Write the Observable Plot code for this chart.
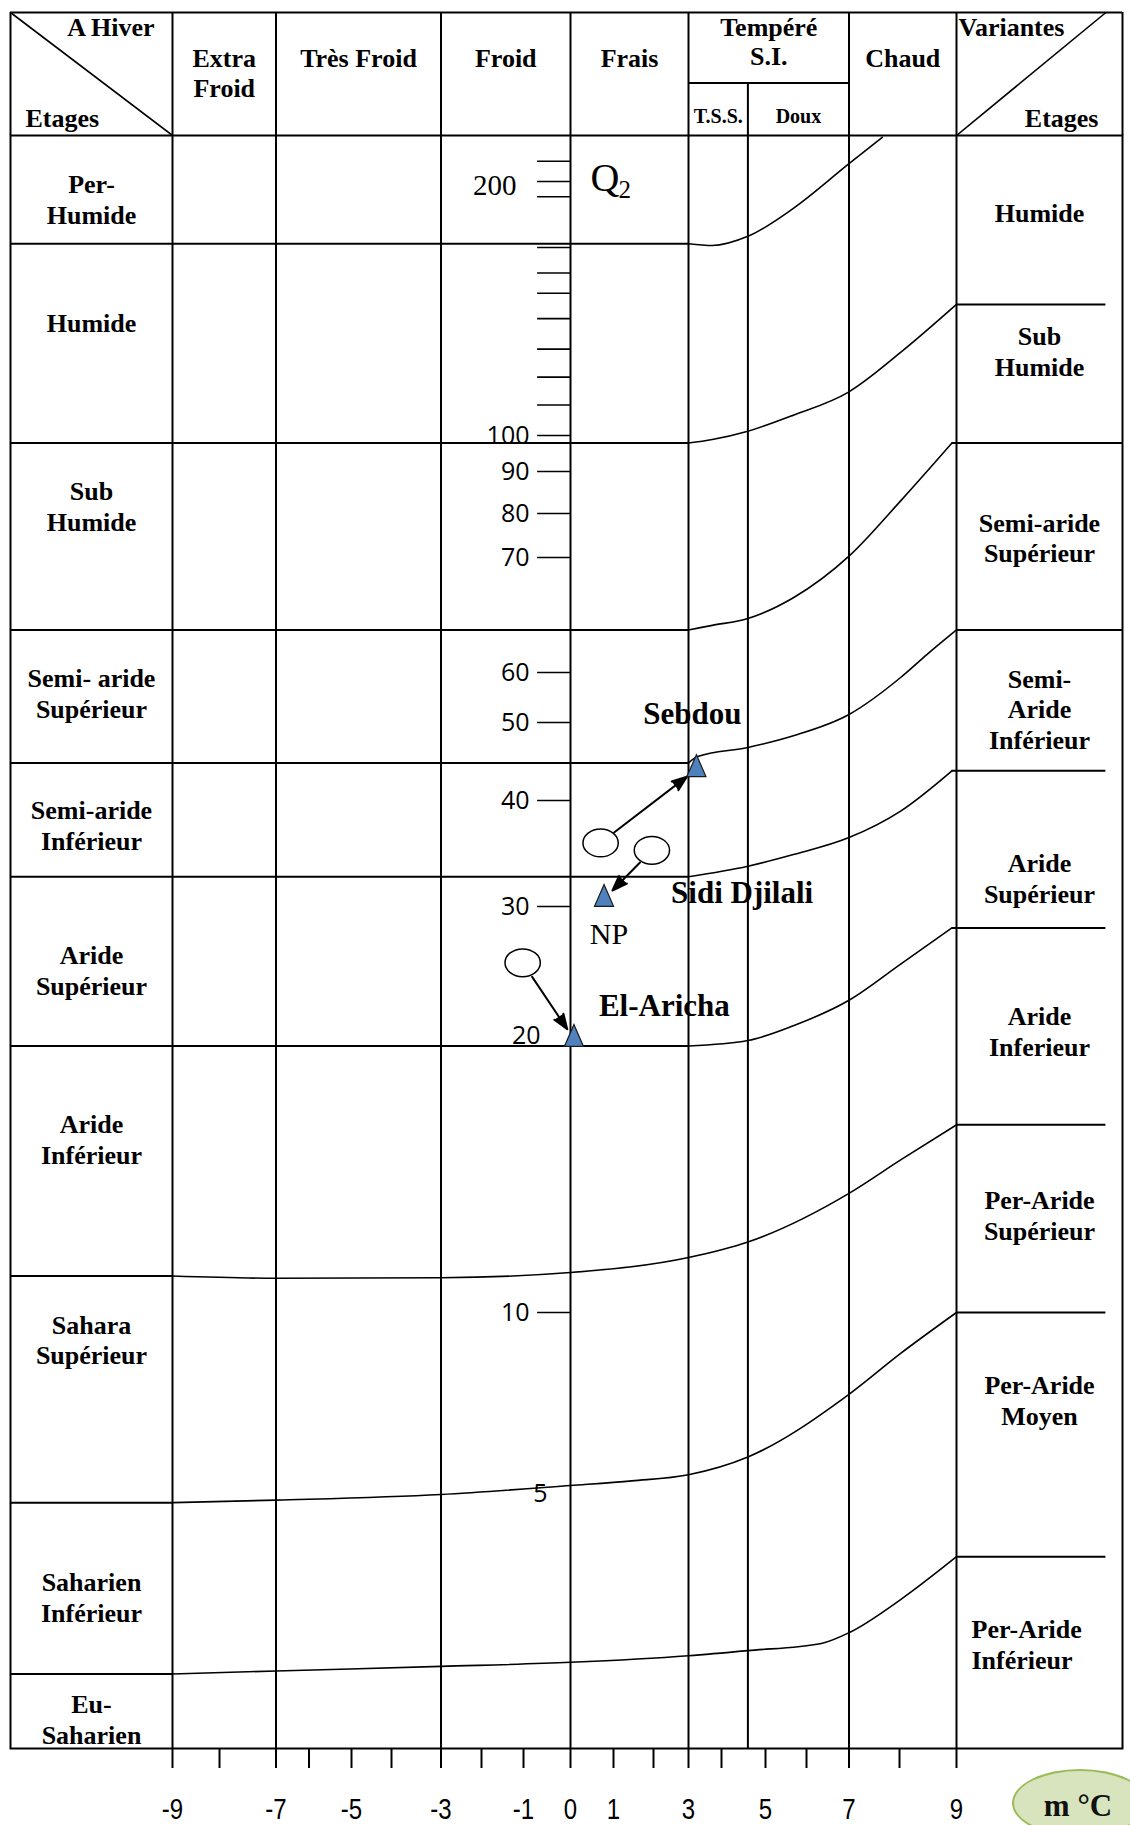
<!DOCTYPE html>
<html lang="fr">
<head>
<meta charset="utf-8">
<title>Climagramme pluviothermique d'Emberger</title>
<script src="https://cdn.jsdelivr.net/npm/d3@7"></script>
<script src="https://cdn.jsdelivr.net/npm/@observablehq/plot@0.6"></script>
<style>
  html, body { margin: 0; padding: 0; background: #fff; overflow: hidden; }
  #chart { position: relative; width: 1130px; height: 1825px; overflow: hidden; }
  #chart svg { position: absolute; left: 0; top: 0; }
  .unit-badge {
    position: absolute; left: 1012px; top: 1769px; width: 136px; height: 68px;
    box-sizing: border-box; border: 2px solid #9bbb59; border-radius: 50%;
    background: #d7e4bd; color: #111;
    font: bold 31px "Liberation Serif", "Times New Roman", serif;
    display: flex; align-items: center; justify-content: center;
    padding-right: 4px; padding-top: 6px;
  }
</style>
</head>
<body>
<div id="chart"></div>
<script>
// ---------- data ----------
// m (°C): graduation stops of the temperature axis (±12 close the two label columns)
const tempStops = [-12, -9, -8, -7, -6, -5, -4, -3, -2, -1, 0, 1, 2, 3, 4, 5, 6, 7, 8, 9, 12];
const tempTicks = [-9, -8, -7, -6, -5, -4, -3, -2, -1, 0, 1, 2, 3, 4, 5, 6, 7, 8, 9];
const tempLabels = [-9, -7, -5, -3, -1, 0, 1, 3, 5, 7, 9];

// Q2: graduation stops of the pluviothermic quotient
const q2Stops = [0, 5, 10, 20, 30, 40, 50, 60, 70, 80, 90, 100, 200];
const q2TickMarks = [208, 200, 194, 174, 164, 156, 146, 134, 123, 112, 100, 90, 80, 70, 60, 50, 40, 30, 10];
const q2SansLabels = [100, 90, 80, 70, 60, 50, 40, 30, 10];
const q2LowLabels = [20];
const q2BottomLabels = [5];
const q2SerifLabels = [200];

// winter variants (column headings)
const columnEdges = [-9, -7, -3, 0, 3, 4.6, 7, 9];
const winterColumns = [
  {label: "Extra\nFroid", from: -9, to: -7},
  {label: "Très Froid", from: -7, to: -3},
  {label: "Froid", from: -3, to: 0},
  {label: "Frais", from: 0, to: 3},
  {label: "Chaud", from: 7, to: 9}
];
const temperedColumn = [{label: "Tempéré\nS.I.", from: 3, to: 7}];
const temperedSub = [
  {label: "T.S.S.", from: 3, to: 4.6},
  {label: "Doux", from: 4.6, to: 7}
];

// bioclimatic stages (left) and variants (right): label, Q2 level
const etagesLeft = [
  ["Per-\nHumide", 193.3],
  ["Humide", 144.5],
  ["Sub\nHumide", 81.8],
  ["Semi- aride\nSupérieur", 56],
  ["Semi-aride\nInférieur", 37.7],
  ["Aride\nSupérieur", 25.3],
  ["Aride\nInférieur", 16.4],
  ["Sahara\nSupérieur", 9.26],
  ["Saharien\nInférieur", 2.98],
  ["Eu-\nSaharien", 0.58]
];
const variantesRight = [
  ["Humide", 187.8],
  ["Sub\nHumide", 133.5],
  ["Semi-aride\nSupérieur", 74.6],
  ["Semi-\nAride\nInférieur", 52.8],
  ["Aride\nSupérieur", 32.75],
  ["Aride\nInferieur", 20.75],
  ["Per-Aride\nSupérieur", 13.6],
  ["Per-Aride\nMoyen", 7.6]
];
const variantesRightLow = [["Per-Aride\nInférieur", 2.06]];

// stage limits: [m (°C), Q2]
const limitPerHumide = [[3, 175.5], [3.72, 174.8], [4.6, 178.4], [5.67, 189.3], [7, 207], [7.66, 217.4]];
const limitHumide = [[3, 97.9], [3.72, 98.9], [4.6, 101.7], [5.68, 108], [7, 117.2], [8.02, 132.7], [9, 151.6]];
const limitSubHumide = [[3, 63.7], [3.72, 64.1], [4.6, 64.7], [5.68, 66.5], [7, 70.3], [8.02, 83], [8.92, 97.9]];
const limitSemiAridSup = [[3, 44.8], [3.26, 45.6], [4.6, 46.8], [5.68, 48.3], [7, 51.6], [8.02, 59], [8.49, 61.6], [9, 63.7]];
const limitSemiAridInf = [[3, 32.8], [4.6, 33.8], [5.68, 34.9], [7, 36.5], [8.02, 39], [8.92, 43.8]];
const limitAridSup = [[3, 19.8], [4.6, 20], [5.68, 21.1], [7, 23], [8.02, 25.7], [8.92, 28.4]];
const limitAridInf = [[-9, 11.34], [-7, 11.26], [-3, 11.28], [0, 11.47], [3, 12.02], [4.6, 12.59], [7, 14.38], [8.02, 15.61], [9, 16.9]];
const limitSaharaSup = [[-9, 4.82], [-7, 4.87], [-3, 4.98], [0, 5.22], [1.46, 5.35], [3, 5.52], [4.6, 6.01], [7, 7.74], [8.02, 8.87], [9, 10]];
const limitSaharienInf = [[-9, 1.46], [-7, 1.52], [-3, 1.61], [0, 1.69], [3, 1.82], [4.6, 1.92], [6.35, 2.06], [7, 2.27], [8.02, 2.92], [9, 3.76]];

// stations: current position (m, q2) and former position (m0, q20)
const stationNames = ["Sebdou", "Sidi Djilali", "El-Aricha"];
const stationM = [3.24, 0.78, 0.08];
const stationQ2 = [44.0, 30.7, 20.1];
const stationM0 = [0.70, 1.96, -1.02];
const stationQ20 = [36.0, 35.3, 25.8];

// ---------- tables built from the arrays ----------
const limits = [
  {id: "perHumide", pts: limitPerHumide, right: null},
  {id: "humide", pts: limitHumide, right: "inner"},
  {id: "subHumide", pts: limitSubHumide, right: "border"},
  {id: "semiAridSup", pts: limitSemiAridSup, right: "border"},
  {id: "semiAridInf", pts: limitSemiAridInf, right: "inner"},
  {id: "aridSup", pts: limitAridSup, right: "inner"},
  {id: "aridInf", pts: limitAridInf, right: "inner"},
  {id: "saharaSup", pts: limitSaharaSup, right: "inner"},
  {id: "saharienInf", pts: limitSaharienInf, right: "inner"}
];
const limitPoints = limits.flatMap(l => l.pts.map(([m, q]) => ({id: l.id, m, q})));
const stations = stationNames.map((name, i) => ({
  name, m: stationM[i], q2: stationQ2[i], m0: stationM0[i], q20: stationQ20[i]
}));

// ---------- layout ----------
const W = 1130, H = 1825;
const tempRange = [10, 172, 219, 275.5, 308.5, 351, 391, 440.5, 481, 523, 570, 613, 653, 688, 721, 765, 806, 848.5, 899, 956, 1122];
const q2Range = [1748, 1493, 1312, 1040, 906, 800, 722, 672, 557, 513, 471, 435, 181];
const xOptions = {type: "linear", domain: tempStops, range: tempRange, label: null};
const xPix = d3.scaleLinear().domain(tempStops).range(tempRange);
const mid = (a, b) => xPix.invert((xPix(a) + xPix(b)) / 2);
const LEFT_COL = mid(-12, -9), RIGHT_COL = mid(9, 12);
const RIGHT_LINE_END = 11.7;
const SUB_ROW = 0.426;

const SERIF = '"Liberation Serif", "Times New Roman", Times, serif';
const SANS = '"Open Sans", "Liberation Sans", Arial, sans-serif';
const AXIS_FONT = '"Liberation Sans Narrow", "Arial Narrow", "Liberation Sans", Arial, sans-serif';

// station and former-position symbols
const stationTriangle = {
  draw(ctx, size) {
    const r = Math.sqrt(size / Math.PI), h = 2.35 * r, w = 2.05 * r;
    ctx.moveTo(0, -2 * h / 3);
    ctx.lineTo(w / 2, h / 3);
    ctx.lineTo(-w / 2, h / 3);
    ctx.closePath();
  }
};
const oval = {
  draw(ctx, size) {
    const ry = Math.sqrt(size / Math.PI), rx = 1.27 * ry, k = 0.5523;
    ctx.moveTo(rx, 0);
    ctx.bezierCurveTo(rx, k * ry, k * rx, ry, 0, ry);
    ctx.bezierCurveTo(-k * rx, ry, -rx, k * ry, -rx, 0);
    ctx.bezierCurveTo(-rx, -k * ry, -k * rx, -ry, 0, -ry);
    ctx.bezierCurveTo(k * rx, -ry, rx, -k * ry, rx, 0);
    ctx.closePath();
  }
};

const bold = {fontFamily: SERIF, fontWeight: "bold", fill: "black"};

// ---------- diagram body ----------
const body = Plot.plot({
  width: W, height: H,
  marginTop: 135, marginRight: 8, marginBottom: 77, marginLeft: 10,
  x: xOptions,
  y: {type: "linear", domain: q2Stops, range: q2Range, axis: null, label: null},
  style: {background: "white"},
  marks: [
    // stage names
    Plot.text(etagesLeft, {x: LEFT_COL, y: d => d[1], text: d => d[0], fontSize: 26, lineHeight: 1.18, ...bold}),
    Plot.text(variantesRight, {x: RIGHT_COL, y: d => d[1], text: d => d[0], fontSize: 26, lineHeight: 1.18, ...bold}),
    Plot.text(variantesRightLow, {x: 9, dx: 15, y: d => d[1], text: d => d[0], textAnchor: "start", fontSize: 26, lineHeight: 1.18, ...bold}),

    // Q2 graduation labels
    Plot.text(q2SansLabels, {x: 0, dx: -41, y: d => d, text: d => String(d), textAnchor: "end", fontSize: 25, fontFamily: SANS, fill: "black"}),
    Plot.text(q2LowLabels, {x: 0, dx: -30, dy: -5, y: d => d, text: d => String(d), textAnchor: "end", fontSize: 25, fontFamily: SANS, fill: "black"}),
    Plot.text(q2BottomLabels, {x: 0, dx: -30, y: d => d, text: d => String(d), textAnchor: "middle", fontSize: 25, fontFamily: SANS, fill: "black"}),
    Plot.text(q2SerifLabels, {x: 0, dx: -54, dy: 4, y: d => d, text: d => String(d), textAnchor: "end", fontSize: 29, fontFamily: SERIF, fill: "black"}),
    Plot.text(["Q"], {x: 0, dx: 20, y: 200, dy: -3, text: d => d, textAnchor: "start", fontSize: 40, fontFamily: SERIF, fill: "black"}),
    Plot.text(["2"], {x: 0, dx: 48, y: 200, dy: 8, text: d => d, textAnchor: "start", fontSize: 25, fontFamily: SERIF, fill: "black"}),

    // station names
    Plot.text(stations.filter(d => d.name === "Sebdou"), {x: "m", y: "q2", text: "name", dx: -4, dy: -55, fontSize: 31, ...bold}),
    Plot.text(stations.filter(d => d.name === "Sidi Djilali"), {x: "m", y: "q2", text: "name", dx: 67, dy: -6, textAnchor: "start", fontSize: 31, ...bold}),
    Plot.text(stations.filter(d => d.name === "El-Aricha"), {x: "m", y: "q2", text: "name", dx: 25, dy: -33, textAnchor: "start", fontSize: 31, ...bold}),
    Plot.text(stations.filter(d => d.name === "Sidi Djilali"), {x: "m", y: "q2", text: () => "NP", dx: 5, dy: 35, fontSize: 30, fontFamily: SERIF, fill: "black"}),

    // grid of the table
    Plot.frame({stroke: "black", strokeWidth: 2}),
    Plot.ruleX(columnEdges, {stroke: "black", strokeWidth: 2}),

    // stage limits: straight part on the left, curve, then the variant line on the right
    Plot.ruleY(limits, {y: d => d.pts[0][1], x1: -12, x2: d => d.pts[0][0], stroke: "black", strokeWidth: 2}),
    Plot.line(limitPoints, {x: "m", y: "q", z: "id", curve: "monotone-x", stroke: "black", strokeWidth: 1.6}),
    Plot.ruleY(limits.filter(d => d.right), {
      y: d => d.pts[d.pts.length - 1][1],
      x1: d => d.pts[d.pts.length - 1][0],
      x2: d => d.right === "border" ? 12 : RIGHT_LINE_END,
      stroke: "black", strokeWidth: 2
    }),

    // Q2 graduation marks on the m = 0 line
    Plot.ruleY(q2TickMarks, {y: d => d, x1: -0.7, x2: 0, stroke: "black", strokeWidth: 1.6}),

    // displacement of the stations
    Plot.arrow(stations, {
      x1: "m0", y1: "q20", x2: "m", y2: "q2",
      insetStart: 17, insetEnd: 12, headAngle: 40, headLength: 12,
      stroke: "black", fill: "black", strokeWidth: 2
    }),
    Plot.dot(stations, {x: "m0", y: "q20", r: 13.9, symbol: oval, fill: "white", stroke: "black", strokeWidth: 1.5}),
    Plot.dot(stations, {x: "m", y: "q2", r: 9.3, symbol: stationTriangle, fill: "#4f81bd", stroke: "#1a1a1a", strokeWidth: 1.2}),

    // m axis
    Plot.axisX({
      ticks: tempTicks,
      tickFormat: d => tempLabels.includes(d) ? String(d) : "",
      tickSize: 20, tickPadding: 29, strokeWidth: 2,
      fontSize: 30, fontFamily: AXIS_FONT, fill: "black", stroke: "black"
    })
  ]
});

// narrow the m axis figures
body.querySelectorAll('g[aria-label="x-axis tick label"] text').forEach(t => {
  const x = +t.getAttribute("x") || 0;
  const y = +t.getAttribute("y") || 0;
  const prev = t.getAttribute("transform") || "";
  t.setAttribute("transform", `${prev} translate(${x},${y}) scale(0.8,1) translate(${-x},${-y})`.trim());
});

// ---------- column headings ----------
const header = Plot.plot({
  width: W, height: 136,
  marginTop: 12, marginRight: 8, marginBottom: 1, marginLeft: 10,
  x: {...xOptions, axis: null},
  y: {domain: [0, 1], range: [135, 12], axis: null},
  style: {background: "transparent"},
  marks: [
    Plot.text(winterColumns, {x: d => mid(d.from, d.to), y: 0.732, text: "label", lineAnchor: "top", fontSize: 26, lineHeight: 1.16, ...bold}),
    Plot.text(temperedColumn, {x: d => mid(d.from, d.to), y: 0.975, text: "label", lineAnchor: "top", fontSize: 26, lineHeight: 1.12, ...bold}),
    Plot.text(temperedSub, {x: d => mid(d.from, d.to), y: 0.154, text: "label", fontSize: 20, ...bold}),
    Plot.text(["A Hiver"], {x: -9, dx: -18, y: 0.88, text: d => d, textAnchor: "end", fontSize: 26, ...bold}),
    Plot.text(["Etages"], {x: -12, dx: 15, y: 0.138, text: d => d, textAnchor: "start", fontSize: 26, ...bold}),
    Plot.text(["Variantes"], {x: 9, dx: 2, y: 0.88, text: d => d, textAnchor: "start", fontSize: 26, ...bold}),
    Plot.text(["Etages"], {x: 12, dx: -24, y: 0.138, text: d => d, textAnchor: "end", fontSize: 26, ...bold}),

    Plot.ruleY([1], {x1: -12, x2: 12, stroke: "black", strokeWidth: 2}),
    Plot.ruleX([-12, 12], {y1: 0, y2: 1, stroke: "black", strokeWidth: 2}),
    Plot.ruleX(columnEdges.filter(d => d !== 4.6), {y1: 0, y2: 1, stroke: "black", strokeWidth: 2}),
    Plot.ruleX([4.6], {y1: 0, y2: SUB_ROW, stroke: "black", strokeWidth: 2}),
    Plot.ruleY([SUB_ROW], {x1: 3, x2: 7, stroke: "black", strokeWidth: 2}),
    Plot.link([{x1: -12, y1: 1, x2: -9, y2: 0}, {x1: 9, y1: 0, x2: RIGHT_LINE_END, y2: 1}],
      {x1: "x1", y1: "y1", x2: "x2", y2: "y2", stroke: "black", strokeWidth: 1.6})
  ]
});

const chart = document.getElementById("chart");
chart.append(body, header);
const badge = document.createElement("div");
badge.className = "unit-badge";
badge.textContent = "m °C";
chart.append(badge);
</script>
</body>
</html>
